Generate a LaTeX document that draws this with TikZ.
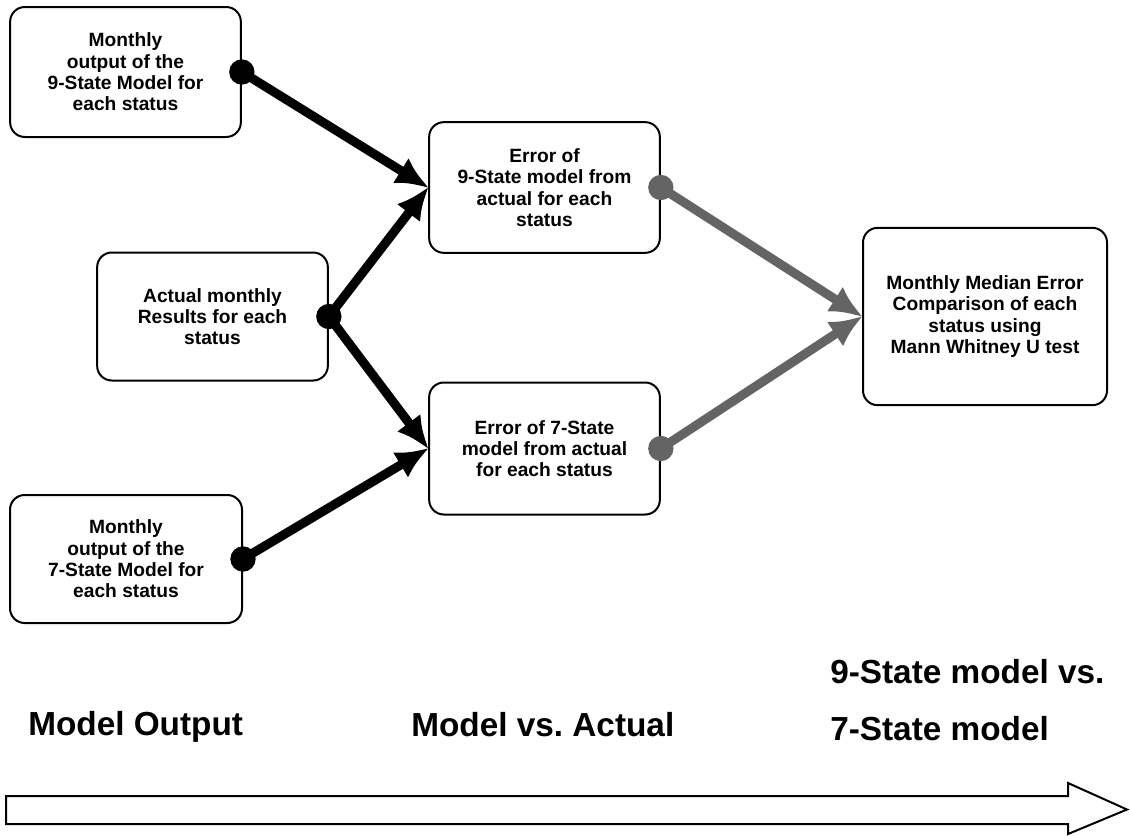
\documentclass[tikz,border=0pt]{standalone}
\usepackage{fontspec}
\setmainfont{Liberation Sans}
\usetikzlibrary{arrows.meta}
\definecolor{arrgray}{RGB}{100,100,100}
\tikzset{
  box/.style={draw=black, line width=1.5pt, rounded corners=11pt, fill=white,
    align=center, font=\bfseries\fontsize{14.4}{16}\selectfont, inner sep=2pt},
  blk/.style={draw=black, line width=6.8pt, -{Latex[length=25pt,width=22pt]}, shorten >=-1pt},
  gry/.style={draw=arrgray, line width=6.8pt, -{Latex[length=25pt,width=22pt]}, shorten >=-1pt},
  stage/.style={font=\bfseries\fontsize{25}{30}\selectfont, anchor=base west, inner sep=0pt},
}
\begin{document}
\frenchspacing
\begin{tikzpicture}[x=0.75pt, y=-0.75pt]
\useasboundingbox (0,0) rectangle (1130,835);

\node[box, minimum width=173pt, minimum height=97.5pt] (b1) at (125.5,72)
  {Monthly\\output of the\\9-State Model for\\each status};
\node[box, minimum width=173pt, minimum height=96pt] (b2) at (212.5,316.5)
  {Actual monthly\\Results for each\\status};
\node[box, minimum width=174pt, minimum height=96pt] (b3) at (126,559)
  {Monthly\\output of the\\7-State Model for\\each status};
\node[box, minimum width=173pt, minimum height=98pt] (b4) at (544.5,187.5)
  {Error of\\9-State model from\\actual for each\\status};
\node[box, minimum width=173pt, minimum height=99pt] (b5) at (544.5,448.5)
  {Error of 7-State\\model from actual\\for each status};
\node[box, minimum width=183pt, minimum height=133pt] (b6) at (985,316.5)
  {Monthly Median Error\\Comparison of each\\status using\\Mann Whitney U test};

\draw[blk] (b1.east) -- (b4.west);
\draw[blk] (b2.east) -- (b4.west);
\draw[blk] (b2.east) -- (b5.west);
\draw[blk] (b3.east) -- (b5.west);
\draw[gry] (b4.east) -- (b6.west);
\draw[gry] (b5.east) -- (b6.west);

\fill[black] (b1.east) circle (9.5pt);
\fill[black] (b2.east) circle (9.5pt);
\fill[black] (b3.east) circle (9.5pt);
\fill[arrgray] (b4.east) circle (9.5pt);
\fill[arrgray] (b5.east) circle (9.5pt);

\node[stage] (s1) at (28,735) {Model Output};
\node[stage] (s2) at (411,736) {Model vs. Actual};
\node[stage] (s3a) at (830,683) {9-State model vs.};
\node[stage] (s3b) at (830,740) {7-State model};

\draw[line width=1.5pt, fill=white, line join=miter]
  (6,796) -- (1068,796) -- (1068,783) -- (1127,809.5) -- (1068,834)
  -- (1068,824) -- (6,824) -- cycle;
\end{tikzpicture}
\end{document}
